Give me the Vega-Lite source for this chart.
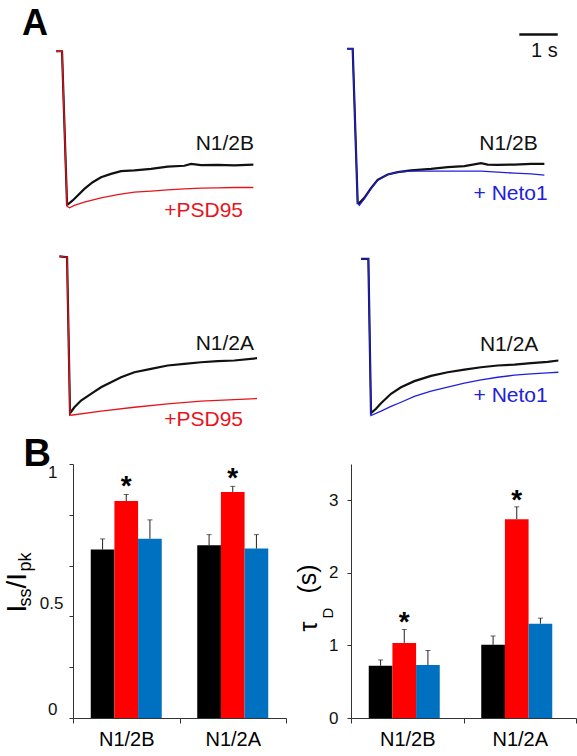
{
 "$schema": "https://vega.github.io/schema/vega-lite/v6.json",
 "padding": {"left": 3, "top": 6, "right": 0, "bottom": 0},
 "background": "white",
 "config": {"font": "Liberation Sans", "view": {"stroke": null}, "axis": {"grid": false, "domainColor": "#333333", "tickColor": "#333333", "labelColor": "#111111", "labelFont": "Liberation Sans"}},
 "datasets": {
  "tl": [
    {"kind":"trace","s":"k","t":0.078,"v":-0.008},
    {"kind":"trace","s":"k","t":0.234,"v":-0.008},
    {"kind":"trace","s":"k","t":0.365,"v":-0.99},
    {"kind":"trace","s":"k","t":0.382,"v":-0.989},
    {"kind":"trace","s":"k","t":0.512,"v":-0.963},
    {"kind":"trace","s":"k","t":0.643,"v":-0.931},
    {"kind":"trace","s":"k","t":0.816,"v":-0.889},
    {"kind":"trace","s":"k","t":1.033,"v":-0.846},
    {"kind":"trace","s":"k","t":1.25,"v":-0.814},
    {"kind":"trace","s":"k","t":1.51,"v":-0.793},
    {"kind":"trace","s":"k","t":1.771,"v":-0.775},
    {"kind":"trace","s":"k","t":2.118,"v":-0.771},
    {"kind":"trace","s":"k","t":2.552,"v":-0.761},
    {"kind":"trace","s":"k","t":2.986,"v":-0.746},
    {"kind":"trace","s":"k","t":3.42,"v":-0.741},
    {"kind":"trace","s":"k","t":3.594,"v":-0.729},
    {"kind":"trace","s":"k","t":3.854,"v":-0.737},
    {"kind":"trace","s":"k","t":4.288,"v":-0.735},
    {"kind":"trace","s":"k","t":4.722,"v":-0.739},
    {"kind":"trace","s":"k","t":5.217,"v":-0.733},
    {"kind":"trace","s":"r","t":0.078,"v":-0.008},
    {"kind":"trace","s":"r","t":0.234,"v":-0.008},
    {"kind":"trace","s":"r","t":0.365,"v":-1.0},
    {"kind":"trace","s":"r","t":0.43,"v":-1.01},
    {"kind":"trace","s":"r","t":0.556,"v":-0.995},
    {"kind":"trace","s":"r","t":0.816,"v":-0.974},
    {"kind":"trace","s":"r","t":1.25,"v":-0.946},
    {"kind":"trace","s":"r","t":1.684,"v":-0.925},
    {"kind":"trace","s":"r","t":2.118,"v":-0.91},
    {"kind":"trace","s":"r","t":2.552,"v":-0.903},
    {"kind":"trace","s":"r","t":2.986,"v":-0.895},
    {"kind":"trace","s":"r","t":3.42,"v":-0.889},
    {"kind":"trace","s":"r","t":3.854,"v":-0.884},
    {"kind":"trace","s":"r","t":4.288,"v":-0.882},
    {"kind":"trace","s":"r","t":4.722,"v":-0.88},
    {"kind":"trace","s":"r","t":5.217,"v":-0.88},
    {"kind":"label","s":"k","txt":"N1/2B","t":5.234,"v":-0.639},
    {"kind":"label","s":"r","txt":"+PSD95","t":4.948,"v":-1.07},
    {"kind":"panel","txt":"A","t":-0.807,"v":0.093}
  ],
  "tr": [
    {"kind":"trace","s":"k","t":0.078,"v":0.008},
    {"kind":"trace","s":"k","t":0.226,"v":0.008},
    {"kind":"trace","s":"k","t":0.356,"v":-0.98},
    {"kind":"trace","s":"k","t":0.399,"v":-0.98},
    {"kind":"trace","s":"k","t":0.529,"v":-0.946},
    {"kind":"trace","s":"k","t":0.703,"v":-0.884},
    {"kind":"trace","s":"k","t":0.877,"v":-0.831},
    {"kind":"trace","s":"k","t":1.137,"v":-0.797},
    {"kind":"trace","s":"k","t":1.398,"v":-0.782},
    {"kind":"trace","s":"k","t":1.745,"v":-0.771},
    {"kind":"trace","s":"k","t":2.266,"v":-0.761},
    {"kind":"trace","s":"k","t":2.7,"v":-0.75},
    {"kind":"trace","s":"k","t":3.134,"v":-0.743},
    {"kind":"trace","s":"k","t":3.568,"v":-0.724},
    {"kind":"trace","s":"k","t":3.741,"v":-0.733},
    {"kind":"trace","s":"k","t":4.002,"v":-0.735},
    {"kind":"trace","s":"k","t":4.436,"v":-0.733},
    {"kind":"trace","s":"k","t":4.87,"v":-0.729},
    {"kind":"trace","s":"k","t":5.217,"v":-0.729},
    {"kind":"trace","s":"b","t":0.078,"v":0.008},
    {"kind":"trace","s":"b","t":0.226,"v":0.008},
    {"kind":"trace","s":"b","t":0.356,"v":-0.98},
    {"kind":"trace","s":"b","t":0.399,"v":-0.995},
    {"kind":"trace","s":"b","t":0.529,"v":-0.953},
    {"kind":"trace","s":"b","t":0.703,"v":-0.889},
    {"kind":"trace","s":"b","t":0.877,"v":-0.835},
    {"kind":"trace","s":"b","t":1.137,"v":-0.797},
    {"kind":"trace","s":"b","t":1.398,"v":-0.782},
    {"kind":"trace","s":"b","t":1.745,"v":-0.775},
    {"kind":"trace","s":"b","t":2.266,"v":-0.775},
    {"kind":"trace","s":"b","t":2.7,"v":-0.775},
    {"kind":"trace","s":"b","t":3.134,"v":-0.775},
    {"kind":"trace","s":"b","t":3.568,"v":-0.775},
    {"kind":"trace","s":"b","t":4.002,"v":-0.782},
    {"kind":"trace","s":"b","t":4.436,"v":-0.788},
    {"kind":"trace","s":"b","t":4.87,"v":-0.793},
    {"kind":"trace","s":"b","t":5.217,"v":-0.801},
    {"kind":"label","s":"k","txt":"N1/2B","t":5.044,"v":-0.639},
    {"kind":"label","s":"b","txt":"+ Neto1","t":5.305,"v":-0.963},
    {"kind":"scalebar","t":4.565,"t2":5.565,"v":0.099},
    {"kind":"scalelabel","txt":"1 s","t":5.565,"v":-0.042}
  ],
  "bl": [
    {"kind":"trace","s":"k","t":0.165,"v":0.01},
    {"kind":"trace","s":"k","t":0.365,"v":0.005},
    {"kind":"trace","s":"k","t":0.443,"v":-0.993},
    {"kind":"trace","s":"k","t":0.556,"v":-0.955},
    {"kind":"trace","s":"k","t":0.729,"v":-0.912},
    {"kind":"trace","s":"k","t":0.99,"v":-0.869},
    {"kind":"trace","s":"k","t":1.25,"v":-0.827},
    {"kind":"trace","s":"k","t":1.51,"v":-0.795},
    {"kind":"trace","s":"k","t":1.771,"v":-0.763},
    {"kind":"trace","s":"k","t":2.118,"v":-0.731},
    {"kind":"trace","s":"k","t":2.552,"v":-0.709},
    {"kind":"trace","s":"k","t":2.986,"v":-0.688},
    {"kind":"trace","s":"k","t":3.42,"v":-0.677},
    {"kind":"trace","s":"k","t":3.854,"v":-0.667},
    {"kind":"trace","s":"k","t":4.288,"v":-0.66},
    {"kind":"trace","s":"k","t":4.722,"v":-0.656},
    {"kind":"trace","s":"k","t":5.313,"v":-0.641},
    {"kind":"trace","s":"r","t":0.165,"v":0.01},
    {"kind":"trace","s":"r","t":0.365,"v":0.005},
    {"kind":"trace","s":"r","t":0.443,"v":-1.002},
    {"kind":"trace","s":"r","t":0.469,"v":-1.006},
    {"kind":"trace","s":"r","t":1.25,"v":-0.98},
    {"kind":"trace","s":"r","t":2.118,"v":-0.955},
    {"kind":"trace","s":"r","t":2.986,"v":-0.933},
    {"kind":"trace","s":"r","t":3.854,"v":-0.916},
    {"kind":"trace","s":"r","t":4.722,"v":-0.906},
    {"kind":"trace","s":"r","t":5.313,"v":-0.899},
    {"kind":"label","s":"k","txt":"N1/2A","t":5.234,"v":-0.588},
    {"kind":"label","s":"r","txt":"+PSD95","t":4.948,"v":-1.072}
  ],
  "br": [
    {"kind":"trace","s":"k","t":0.443,"v":-0.005},
    {"kind":"trace","s":"k","t":0.634,"v":-0.005},
    {"kind":"trace","s":"k","t":0.703,"v":-0.993},
    {"kind":"trace","s":"k","t":0.833,"v":-0.965},
    {"kind":"trace","s":"k","t":0.964,"v":-0.929},
    {"kind":"trace","s":"k","t":1.224,"v":-0.869},
    {"kind":"trace","s":"k","t":1.484,"v":-0.827},
    {"kind":"trace","s":"k","t":1.832,"v":-0.788},
    {"kind":"trace","s":"k","t":2.266,"v":-0.754},
    {"kind":"trace","s":"k","t":2.7,"v":-0.731},
    {"kind":"trace","s":"k","t":3.134,"v":-0.714},
    {"kind":"trace","s":"k","t":3.568,"v":-0.699},
    {"kind":"trace","s":"k","t":4.002,"v":-0.688},
    {"kind":"trace","s":"k","t":4.436,"v":-0.682},
    {"kind":"trace","s":"k","t":4.87,"v":-0.673},
    {"kind":"trace","s":"k","t":5.304,"v":-0.665},
    {"kind":"trace","s":"k","t":5.582,"v":-0.656},
    {"kind":"trace","s":"b","t":0.443,"v":-0.005},
    {"kind":"trace","s":"b","t":0.634,"v":-0.005},
    {"kind":"trace","s":"b","t":0.703,"v":-1.008},
    {"kind":"trace","s":"b","t":0.964,"v":-0.98},
    {"kind":"trace","s":"b","t":1.224,"v":-0.95},
    {"kind":"trace","s":"b","t":1.484,"v":-0.923},
    {"kind":"trace","s":"b","t":1.832,"v":-0.886},
    {"kind":"trace","s":"b","t":2.266,"v":-0.852},
    {"kind":"trace","s":"b","t":2.7,"v":-0.827},
    {"kind":"trace","s":"b","t":3.134,"v":-0.801},
    {"kind":"trace","s":"b","t":3.568,"v":-0.78},
    {"kind":"trace","s":"b","t":4.002,"v":-0.763},
    {"kind":"trace","s":"b","t":4.436,"v":-0.75},
    {"kind":"trace","s":"b","t":4.87,"v":-0.741},
    {"kind":"trace","s":"b","t":5.304,"v":-0.735},
    {"kind":"trace","s":"b","t":5.582,"v":-0.731},
    {"kind":"label","s":"k","txt":"N1/2A","t":5.06,"v":-0.592},
    {"kind":"label","s":"b","txt":"+ Neto1","t":5.305,"v":-0.923}
  ],
  "bars1": [
    {"g": "N1/2B", "cond": "ctrl", "m": 0.663, "hi": 0.705, "sig": false},
    {"g": "N1/2B", "cond": "psd", "m": 0.854, "hi": 0.88, "sig": true},
    {"g": "N1/2B", "cond": "neto", "m": 0.706, "hi": 0.78, "sig": false},
    {"g": "N1/2A", "cond": "ctrl", "m": 0.68, "hi": 0.722, "sig": false},
    {"g": "N1/2A", "cond": "psd", "m": 0.89, "hi": 0.912, "sig": true},
    {"g": "N1/2A", "cond": "neto", "m": 0.667, "hi": 0.722, "sig": false}
  ],
  "bars2": [
    {"g": "N1/2B", "cond": "ctrl", "m": 0.72, "hi": 0.8, "sig": false},
    {"g": "N1/2B", "cond": "psd", "m": 1.035, "hi": 1.22, "sig": true},
    {"g": "N1/2B", "cond": "neto", "m": 0.73, "hi": 0.93, "sig": false},
    {"g": "N1/2A", "cond": "ctrl", "m": 1.01, "hi": 1.13, "sig": false},
    {"g": "N1/2A", "cond": "psd", "m": 2.74, "hi": 2.91, "sig": true},
    {"g": "N1/2A", "cond": "neto", "m": 1.3, "hi": 1.376, "sig": false}
  ]
 },
 "bounds": "flush",
 "columns": 2,
 "spacing": {"row": 8, "column": 65},
 "resolve": {"scale": {"color": "independent"}},
 "concat": [
    {"data": {"name": "tl"}, "width": 213, "height": 200,
     "layer": [
      {"transform": [{"filter": "datum.kind == 'trace' && datum.s == 'k'"}],
       "mark": {"type": "line", "color": "#111111", "strokeWidth": 2.2},
       "encoding": {
        "x": {"field": "t", "type": "quantitative", "scale": {"domain": [0.52, 6.067], "nice": false, "zero": false}, "axis": null},
        "y": {"field": "v", "type": "quantitative", "scale": {"domain": [-1.12, 0.16], "nice": false, "zero": false}, "axis": null}}},
      {"transform": [{"filter": "datum.kind == 'trace' && datum.s != 'k'"}],
       "mark": {"type": "line", "strokeWidth": 1.3},
       "encoding": {
        "x": {"field": "t", "type": "quantitative"},
        "y": {"field": "v", "type": "quantitative"},
        "color": {"field": "s", "type": "nominal", "scale": {"domain": ["k", "r", "b"], "range": ["#111111", "#e8141c", "#2020dc"]}, "legend": null}}},
      {"transform": [{"filter": "datum.kind == 'label'"}],
       "mark": {"type": "text", "align": "right", "baseline": "alphabetic", "fontSize": 21},
       "encoding": {
        "x": {"field": "t", "type": "quantitative"},
        "y": {"field": "v", "type": "quantitative"},
        "text": {"field": "txt"},
        "color": {"field": "s", "type": "nominal", "legend": null}}},
      {"transform": [{"filter": "datum.kind == 'panel'"}],
       "mark": {"type": "text", "align": "left", "baseline": "alphabetic", "fontSize": 36, "fontWeight": "bold", "color": "#000000"},
       "encoding": {
        "x": {"field": "t", "type": "quantitative"},
        "y": {"field": "v", "type": "quantitative"},
        "text": {"field": "txt"}}}
     ]},
    {"data": {"name": "tr"}, "width": 225, "height": 200,
     "layer": [
      {"transform": [{"filter": "datum.kind == 'trace' && datum.s == 'k'"}],
       "mark": {"type": "line", "color": "#111111", "strokeWidth": 2.2},
       "encoding": {
        "x": {"field": "t", "type": "quantitative", "scale": {"domain": [0.182, 6.041], "nice": false, "zero": false}, "axis": null},
        "y": {"field": "v", "type": "quantitative", "scale": {"domain": [-1.12, 0.16], "nice": false, "zero": false}, "axis": null}}},
      {"transform": [{"filter": "datum.kind == 'trace' && datum.s != 'k'"}],
       "mark": {"type": "line", "strokeWidth": 1.3},
       "encoding": {
        "x": {"field": "t", "type": "quantitative"},
        "y": {"field": "v", "type": "quantitative"},
        "color": {"field": "s", "type": "nominal", "scale": {"domain": ["k", "r", "b"], "range": ["#111111", "#e8141c", "#2020dc"]}, "legend": null}}},
      {"transform": [{"filter": "datum.kind == 'label'"}],
       "mark": {"type": "text", "align": "right", "baseline": "alphabetic", "fontSize": 21},
       "encoding": {
        "x": {"field": "t", "type": "quantitative"},
        "y": {"field": "v", "type": "quantitative"},
        "text": {"field": "txt"},
        "color": {"field": "s", "type": "nominal", "legend": null}}},
      {"transform": [{"filter": "datum.kind == 'scalebar'"}],
       "mark": {"type": "rule", "strokeWidth": 2.5, "color": "#111111"},
       "encoding": {
        "x": {"field": "t", "type": "quantitative"},
        "x2": {"field": "t2"},
        "y": {"field": "v", "type": "quantitative"}}},
      {"transform": [{"filter": "datum.kind == 'scalelabel'"}],
       "mark": {"type": "text", "align": "right", "baseline": "alphabetic", "fontSize": 20, "color": "#111111"},
       "encoding": {
        "x": {"field": "t", "type": "quantitative"},
        "y": {"field": "v", "type": "quantitative"},
        "text": {"field": "txt"}}}
     ]},
    {"data": {"name": "bl"}, "width": 213, "height": 223,
     "layer": [
      {"transform": [{"filter": "datum.kind == 'trace' && datum.s == 'k'"}],
       "mark": {"type": "line", "color": "#111111", "strokeWidth": 2.2},
       "encoding": {
        "x": {"field": "t", "type": "quantitative", "scale": {"domain": [0.52, 6.067], "nice": false, "zero": false}, "axis": null},
        "y": {"field": "v", "type": "quantitative", "scale": {"domain": [-1.267, 0.16], "nice": false, "zero": false}, "axis": null}}},
      {"transform": [{"filter": "datum.kind == 'trace' && datum.s != 'k'"}],
       "mark": {"type": "line", "strokeWidth": 1.3},
       "encoding": {
        "x": {"field": "t", "type": "quantitative"},
        "y": {"field": "v", "type": "quantitative"},
        "color": {"field": "s", "type": "nominal", "scale": {"domain": ["k", "r", "b"], "range": ["#111111", "#e8141c", "#2020dc"]}, "legend": null}}},
      {"transform": [{"filter": "datum.kind == 'label'"}],
       "mark": {"type": "text", "align": "right", "baseline": "alphabetic", "fontSize": 21},
       "encoding": {
        "x": {"field": "t", "type": "quantitative"},
        "y": {"field": "v", "type": "quantitative"},
        "text": {"field": "txt"},
        "color": {"field": "s", "type": "nominal", "legend": null}}}
     ]},
    {"data": {"name": "br"}, "width": 225, "height": 223,
     "layer": [
      {"transform": [{"filter": "datum.kind == 'trace' && datum.s == 'k'"}],
       "mark": {"type": "line", "color": "#111111", "strokeWidth": 2.2},
       "encoding": {
        "x": {"field": "t", "type": "quantitative", "scale": {"domain": [0.182, 6.041], "nice": false, "zero": false}, "axis": null},
        "y": {"field": "v", "type": "quantitative", "scale": {"domain": [-1.267, 0.16], "nice": false, "zero": false}, "axis": null}}},
      {"transform": [{"filter": "datum.kind == 'trace' && datum.s != 'k'"}],
       "mark": {"type": "line", "strokeWidth": 1.3},
       "encoding": {
        "x": {"field": "t", "type": "quantitative"},
        "y": {"field": "v", "type": "quantitative"},
        "color": {"field": "s", "type": "nominal", "scale": {"domain": ["k", "r", "b"], "range": ["#111111", "#e8141c", "#2020dc"]}, "legend": null}}},
      {"transform": [{"filter": "datum.kind == 'label'"}],
       "mark": {"type": "text", "align": "right", "baseline": "alphabetic", "fontSize": 21},
       "encoding": {
        "x": {"field": "t", "type": "quantitative"},
        "y": {"field": "v", "type": "quantitative"},
        "text": {"field": "txt"},
        "color": {"field": "s", "type": "nominal", "legend": null}}}
     ]},
    {
     "width": 213,
     "height": 254,
     "data": {"name": "bars1"},
     "layer": [
      {"mark": {"type": "bar"},
       "encoding": {
        "x": {"field": "g", "type": "nominal", "scale": {"domain": ["N1/2B", "N1/2A"], "paddingInner": 0, "paddingOuter": 0},
              "axis": {"title": null, "labelAngle": 0, "labelFontSize": 20, "labelColor": "#000000", "labelPadding": 6, "tickBand": "extent", "tickSize": 5}},
        "xOffset": {"field": "cond", "type": "nominal", "scale": {"domain": ["ctrl", "psd", "neto"], "paddingInner": 0, "paddingOuter": 0.75}},
        "y": {"field": "m", "type": "quantitative", "scale": {"domain": [0, 1], "nice": false},
              "axis": {"title": null, "values": [0, 0.2, 0.4, 0.5, 0.6, 0.8, 1],
                       "labelExpr": "datum.value == 0 ? '0' : datum.value == 0.5 ? '0.5' : datum.value == 1 ? '1' : ''",
                       "tickOpacity": {"condition": {"test": "datum.value == 0.5", "value": 0}, "value": 1},
                       "labelBaseline": {"condition": [{"test": "datum.value == 1", "value": "top"}, {"test": "datum.value == 0", "value": "bottom"}], "value": "middle"},
                       "labelOffset": {"condition": {"test": "datum.value == 0.5", "value": 12}, "value": 0},
                       "labelPadding": {"condition": {"test": "datum.value == 0.5", "value": 6}, "value": 12},
                       "tickSize": 4, "labelFontSize": 17}},
        "color": {"field": "cond", "type": "nominal", "scale": {"domain": ["ctrl", "psd", "neto"], "range": ["#000000", "#ff0000", "#0070c0"]}, "legend": null}
       }},
      {"mark": {"type": "rule", "color": "#222222", "strokeWidth": 1},
       "encoding": {
        "x": {"field": "g", "type": "nominal"},
        "xOffset": {"field": "cond", "type": "nominal"},
        "y": {"field": "m", "type": "quantitative"},
        "y2": {"field": "hi"}}},
      {"mark": {"type": "tick", "color": "#222222", "size": 5, "thickness": 1},
       "encoding": {
        "x": {"field": "g", "type": "nominal"},
        "xOffset": {"field": "cond", "type": "nominal"},
        "y": {"field": "hi", "type": "quantitative"}}},
      {"transform": [{"filter": "datum.sig"}],
       "mark": {"type": "text", "text": "*", "fontSize": 28, "fontWeight": "bold", "baseline": "alphabetic", "color": "#000000", "dy": 1},
       "encoding": {
        "x": {"field": "g", "type": "nominal"},
        "xOffset": {"field": "cond", "type": "nominal"},
        "y": {"field": "hi", "type": "quantitative"}}},
      {"data": {"values": [{}]},
       "mark": {"type": "text", "text": "I", "angle": 270, "align": "left", "baseline": "alphabetic", "fontSize": 28, "color": "#000000", "dy": -100.25},
       "encoding": {"x": {"datum": "N1/2B"}, "y": {"datum": 0.415}}},
      {"data": {"values": [{}]},
       "mark": {"type": "text", "text": "ss", "angle": 270, "align": "left", "baseline": "alphabetic", "fontSize": 18, "color": "#000000", "dy": -95.25},
       "encoding": {"x": {"datum": "N1/2B"}, "y": {"datum": 0.439}}},
      {"data": {"values": [{}]},
       "mark": {"type": "text", "text": "/I", "angle": 270, "align": "left", "baseline": "alphabetic", "fontSize": 28, "color": "#000000", "dy": -100.25},
       "encoding": {"x": {"datum": "N1/2B"}, "y": {"datum": 0.51}}},
      {"data": {"values": [{}]},
       "mark": {"type": "text", "text": "pk", "angle": 270, "align": "left", "baseline": "alphabetic", "fontSize": 18, "color": "#000000", "dy": -95.25},
       "encoding": {"x": {"datum": "N1/2B"}, "y": {"datum": 0.577}}},
      {"data": {"values": [{}]},
       "mark": {"type": "text", "text": "B", "align": "left", "baseline": "alphabetic", "fontSize": 38, "fontWeight": "bold", "color": "#000000", "dx": -102.75},
       "encoding": {"x": {"datum": "N1/2B"}, "y": {"datum": 0.994}}}
     ]
    },
    {
     "width": 225,
     "height": 254,
     "data": {"name": "bars2"},
     "layer": [
      {"mark": {"type": "bar"},
       "encoding": {
        "x": {"field": "g", "type": "nominal", "scale": {"domain": ["N1/2B", "N1/2A"], "paddingInner": 0, "paddingOuter": 0},
              "axis": {"title": null, "labelAngle": 0, "labelFontSize": 20, "labelColor": "#000000", "labelPadding": 6, "tickBand": "extent", "tickSize": 5}},
        "xOffset": {"field": "cond", "type": "nominal", "scale": {"domain": ["ctrl", "psd", "neto"], "paddingInner": 0, "paddingOuter": 0.77}},
        "y": {"field": "m", "type": "quantitative", "scale": {"domain": [0, 3.5], "nice": false},
              "axis": {"title": null, "values": [0, 0.5, 1, 1.5, 2, 2.5, 3, 3.5],
                       "labelExpr": "datum.value % 1 == 0 && datum.value < 3.5 ? format(datum.value, 'd') : ''",
                       "tickSize": 4, "labelFontSize": 17, "labelPadding": 9}},
        "color": {"field": "cond", "type": "nominal", "scale": {"domain": ["ctrl", "psd", "neto"], "range": ["#000000", "#ff0000", "#0070c0"]}, "legend": null}
       }},
      {"mark": {"type": "rule", "color": "#222222", "strokeWidth": 1},
       "encoding": {
        "x": {"field": "g", "type": "nominal"},
        "xOffset": {"field": "cond", "type": "nominal"},
        "y": {"field": "m", "type": "quantitative"},
        "y2": {"field": "hi"}}},
      {"mark": {"type": "tick", "color": "#222222", "size": 5, "thickness": 1},
       "encoding": {
        "x": {"field": "g", "type": "nominal"},
        "xOffset": {"field": "cond", "type": "nominal"},
        "y": {"field": "hi", "type": "quantitative"}}},
      {"transform": [{"filter": "datum.sig"}],
       "mark": {"type": "text", "text": "*", "fontSize": 28, "fontWeight": "bold", "baseline": "alphabetic", "color": "#000000", "dy": 2},
       "encoding": {
        "x": {"field": "g", "type": "nominal"},
        "xOffset": {"field": "cond", "type": "nominal"},
        "y": {"field": "hi", "type": "quantitative"}}},
      {"data": {"values": [{}]},
       "mark": {"type": "text", "text": "τ", "angle": 270, "align": "left", "baseline": "alphabetic", "fontSize": 25, "color": "#000000", "dy": -90.25},
       "encoding": {"x": {"datum": "N1/2B"}, "y": {"datum": 1.192}}},
      {"data": {"values": [{}]},
       "mark": {"type": "text", "text": "D", "angle": 270, "align": "left", "baseline": "alphabetic", "fontSize": 15, "color": "#000000", "dy": -74.25},
       "encoding": {"x": {"datum": "N1/2B"}, "y": {"datum": 1.371}}},
      {"data": {"values": [{}]},
       "mark": {"type": "text", "text": "(s)", "angle": 270, "align": "left", "baseline": "alphabetic", "fontSize": 25, "color": "#000000", "dy": -91.25},
       "encoding": {"x": {"datum": "N1/2B"}, "y": {"datum": 1.715}}}
     ]
    }
 ]
}
